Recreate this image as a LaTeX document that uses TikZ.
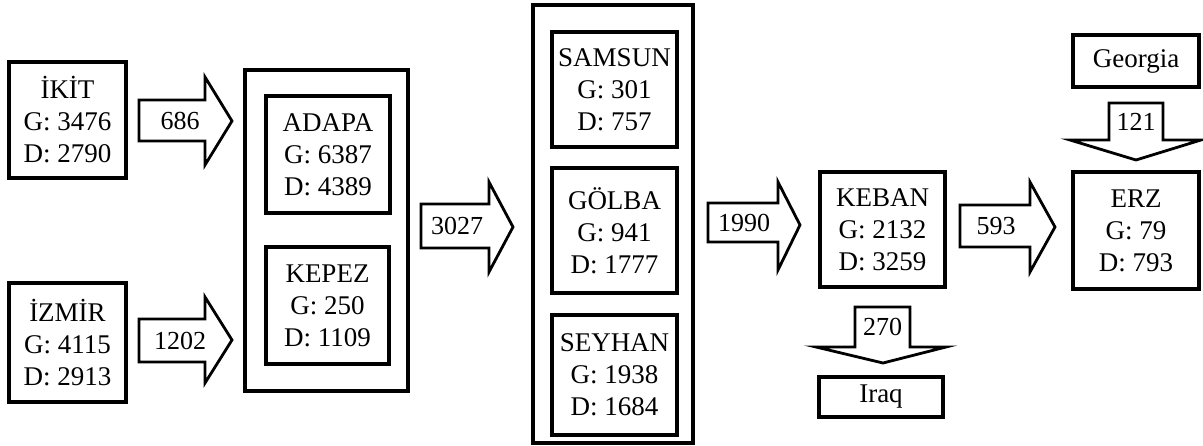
\documentclass[tikz,border=0pt]{standalone}
\usepackage{fontspec}
\setmainfont{Liberation Serif}
\begin{document}
\begin{tikzpicture}[x=1pt,y=-1pt,
  box/.style={draw,line width=3.2pt,inner sep=0pt,align=center,font=\fontsize{27}{32}\selectfont},
  outerbox/.style={draw,line width=3.2pt,inner sep=0pt},
  arr/.style={draw,line width=2.8pt,line join=miter,fill=white},
  lbl/.style={inner sep=0pt,font=\fontsize{26}{30}\selectfont}]
\useasboundingbox (0,0) rectangle (1203,445);
% boxes
\node[box,minimum width=117pt,minimum height=116pt] (ikit) at (67.5,120) {İKİT\\G: 3476\\D: 2790};
\node[box,minimum width=117pt,minimum height=119pt] (izmir) at (67.5,342.5) {İZMİR\\G: 4115\\D: 2913};
\node[outerbox,minimum width=163pt,minimum height=321pt] (grp1) at (326.5,230.5) {};
\node[box,minimum width=124pt,minimum height=117pt] (adapa) at (328,154.5) {ADAPA\\G: 6387\\D: 4389};
\node[box,minimum width=123pt,minimum height=117pt] (kepez) at (327.5,305.5) {KEPEZ\\G: 250\\D: 1109};
\node[outerbox,minimum width=160pt,minimum height=438pt] (grp2) at (613,224) {};
\node[box,minimum width=125pt,minimum height=115pt] (samsun) at (614.5,89.5) {SAMSUN\\G: 301\\D: 757};
\node[box,minimum width=125pt,minimum height=125pt] (golba) at (614.5,230.5) {GÖLBA\\G: 941\\D: 1777};
\node[box,minimum width=125pt,minimum height=120pt] (seyhan) at (614.5,375) {SEYHAN\\G: 1938\\D: 1684};
\node[box,minimum width=125pt,minimum height=115pt] (keban) at (882.5,229.5) {KEBAN\\G: 2132\\D: 3259};
\node[box,minimum width=124pt,minimum height=40pt] (iraq) at (881,397) {Iraq};
\node[box,minimum width=126pt,minimum height=52pt] (georgia) at (1136,61) {Georgia};
\node[box,minimum width=126pt,minimum height=117pt] (erz) at (1136,230.5) {ERZ\\G: 79\\D: 793};
% block arrows
\draw[arr] (139,100) -- (205,100) -- (205,77) -- (232,121) -- (205,165) -- (205,141) -- (139,141) -- cycle;
\node[lbl] (a686) at (180,120.5) {686};
\draw[arr] (139,319) -- (205,319) -- (205,297) -- (232,340) -- (205,383) -- (205,362) -- (139,362) -- cycle;
\node[lbl] (a1202) at (180,340.5) {1202};
\draw[arr] (421,204) -- (489,204) -- (489,182) -- (513,227) -- (489,272) -- (489,248) -- (421,248) -- cycle;
\node[lbl] (a3027) at (457,226) {3027};
\draw[arr] (708,203) -- (778,203) -- (778,182) -- (800,225) -- (778,270) -- (778,242) -- (708,242) -- cycle;
\node[lbl] (a1990) at (744,223) {1990};
\draw[arr] (960,205) -- (1030,205) -- (1030,182) -- (1055,227) -- (1030,272) -- (1030,247) -- (960,247) -- cycle;
\node[lbl] (a593) at (996,226) {593};
\draw[arr] (855,307) -- (910,307) -- (910,347) -- (946,347) -- (883,363) -- (816,347) -- (855,347) -- cycle;
\node[lbl] (a270) at (882.5,327) {270};
\draw[arr] (1109,103) -- (1163,103) -- (1163,140) -- (1201,140) -- (1136,160) -- (1070,140) -- (1109,140) -- cycle;
\node[lbl] (a121) at (1136,121.5) {121};
\end{tikzpicture}
\end{document}
